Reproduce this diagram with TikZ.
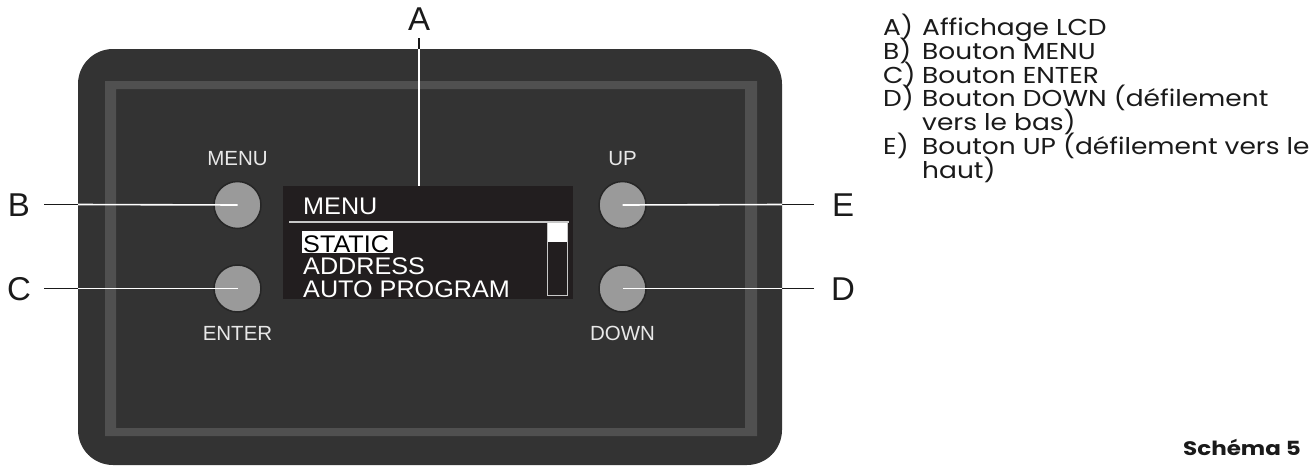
\documentclass[tikz,border=0pt]{standalone}
\usepackage{fontspec}
\setmainfont{Liberation Sans}
\newfontfamily\legendfont[FakeStretch=1.15]{Poppins}
\newfontfamily\schemafont[FakeStretch=1.18]{Poppins}
\newfontfamily\lcdfont[FakeStretch=1.05]{Liberation Sans}
\definecolor{panel}{HTML}{333333}
\definecolor{band}{HTML}{505050}
\definecolor{lcd}{HTML}{221E1F}
\definecolor{btn}{HTML}{9A9A9A}
\definecolor{btnedge}{HTML}{262626}
\definecolor{lcdline}{HTML}{C8C8C8}
\definecolor{btntext}{HTML}{E8E8E8}
\definecolor{ink}{HTML}{1A1A1A}
\tikzset{
  button/.style={circle, fill=btn, draw=btnedge, line width=1.5pt, minimum size=47pt, inner sep=0pt},
  btnlabel/.style={text=btntext, font=\fontsize{20.5}{20.5}\selectfont, inner sep=0pt},
  letter/.style={text=ink, font=\fontsize{33}{33}\selectfont, inner sep=0pt},
  leaderin/.style={draw=white, line width=1.6pt},
  leaderout/.style={draw=ink, line width=1.4pt},
  lcdtext/.style={text=white, font=\lcdfont\fontsize{24}{24}\selectfont, inner sep=0pt, anchor=base west},
  legend/.style={text=ink, font=\legendfont\fontsize{23}{23}\selectfont, inner sep=0pt, anchor=base west},
}
\begin{document}
\begin{tikzpicture}[x=1pt, y=-1pt]
\useasboundingbox (0,0) rectangle (1309,466);
% panel
\fill[panel, rounded corners=35pt] (78,49) rectangle (782,465);
\fill[band, even odd rule] (105,81) rectangle (757,436) (116,89) rectangle (745,428);
% LCD
\node[fill=lcd, minimum width=290pt, minimum height=113pt, inner sep=0pt, anchor=north west] (lcd) at (283,186) {};
\draw[lcdline, line width=1.2pt] (289,222) -- (569,222);
\node[lcdtext] (lmenu) at (303,214) {MENU};
\fill[white] (302,231) rectangle (393,253);
\node[lcdtext, text=black] (lstatic) at (303,252) {STATIC};
\node[lcdtext] (laddr) at (303,274.5) {ADDRESS};
\node[lcdtext] (lauto) at (303,297.5) {AUTO PROGRAM};
\fill[white] (547,222) rectangle (567,242);
\draw[lcdline, line width=1pt] (547,222) rectangle (567,295);
% buttons
\node[button] (bmenu) at (237.5,205) {};
\node[button] (benter) at (237.5,288.5) {};
\node[button] (bup) at (622.5,205) {};
\node[button] (bdown) at (622.5,288.5) {};
\node[btnlabel] (tmenu) at (237.5,158.5) {MENU};
\node[btnlabel] (tenter) at (237.5,333.5) {ENTER};
\node[btnlabel] (tup) at (622.5,158.5) {UP};
\node[btnlabel] (tdown) at (622.5,333.5) {DOWN};
% letters
\node[letter, anchor=base] (la) at (419,30.5) {A};
\node[letter, anchor=base] (lb) at (19,216.5) {B};
\node[letter, anchor=base] (lc) at (19,300) {C};
\node[letter, anchor=base] (le) at (843,216.5) {E};
\node[letter, anchor=base] (ld) at (843,300) {D};
% leader lines
\coordinate (ea) at (419,49);
\coordinate (eb) at (78,204.5);
\coordinate (ec) at (78,288.5);
\coordinate (ee) at (782,204.5);
\coordinate (ed) at (782,288.5);
\draw[leaderout] (419,38) -- (ea);
\draw[leaderin] (ea) -- (lcd.north -| ea);
\draw[leaderout] (44,204.5) -- (eb);
\draw[leaderin] (eb) -- (bmenu.center);
\draw[leaderout] (44,288.5) -- (ec);
\draw[leaderin] (ec) -- (benter.center);
\draw[leaderout] (814,204.5) -- (ee);
\draw[leaderin] (ee) -- (bup.center);
\draw[leaderout] (814,288.5) -- (ed);
\draw[leaderin] (ed) -- (bdown.center);
% legend
\node[legend] (ga) at (883,35.5) {A)};
\node[legend] (gat) at (922,35.5) {Affichage LCD};
\node[legend] (gb) at (883,59.3) {B)};
\node[legend] (gbt) at (922,59.3) {Bouton MENU};
\node[legend] (gc) at (883,83.1) {C)};
\node[legend] (gct) at (922,83.1) {Bouton ENTER};
\node[legend] (gd) at (883,106.9) {D)};
\node[legend] (gdt) at (922,106.9) {Bouton DOWN (défilement};
\node[legend] (gdt2) at (922,130.7) {vers le bas)};
\node[legend] (ge) at (883,154.5) {E)};
\node[legend] (get) at (922,154.5) {Bouton UP (défilement vers le};
\node[legend] (get2) at (922,178.3) {haut)};
\node[legend, font=\schemafont\bfseries\fontsize{19.5}{19.5}\selectfont] (schema) at (1183,455) {Schéma 5};
\end{tikzpicture}
\end{document}
